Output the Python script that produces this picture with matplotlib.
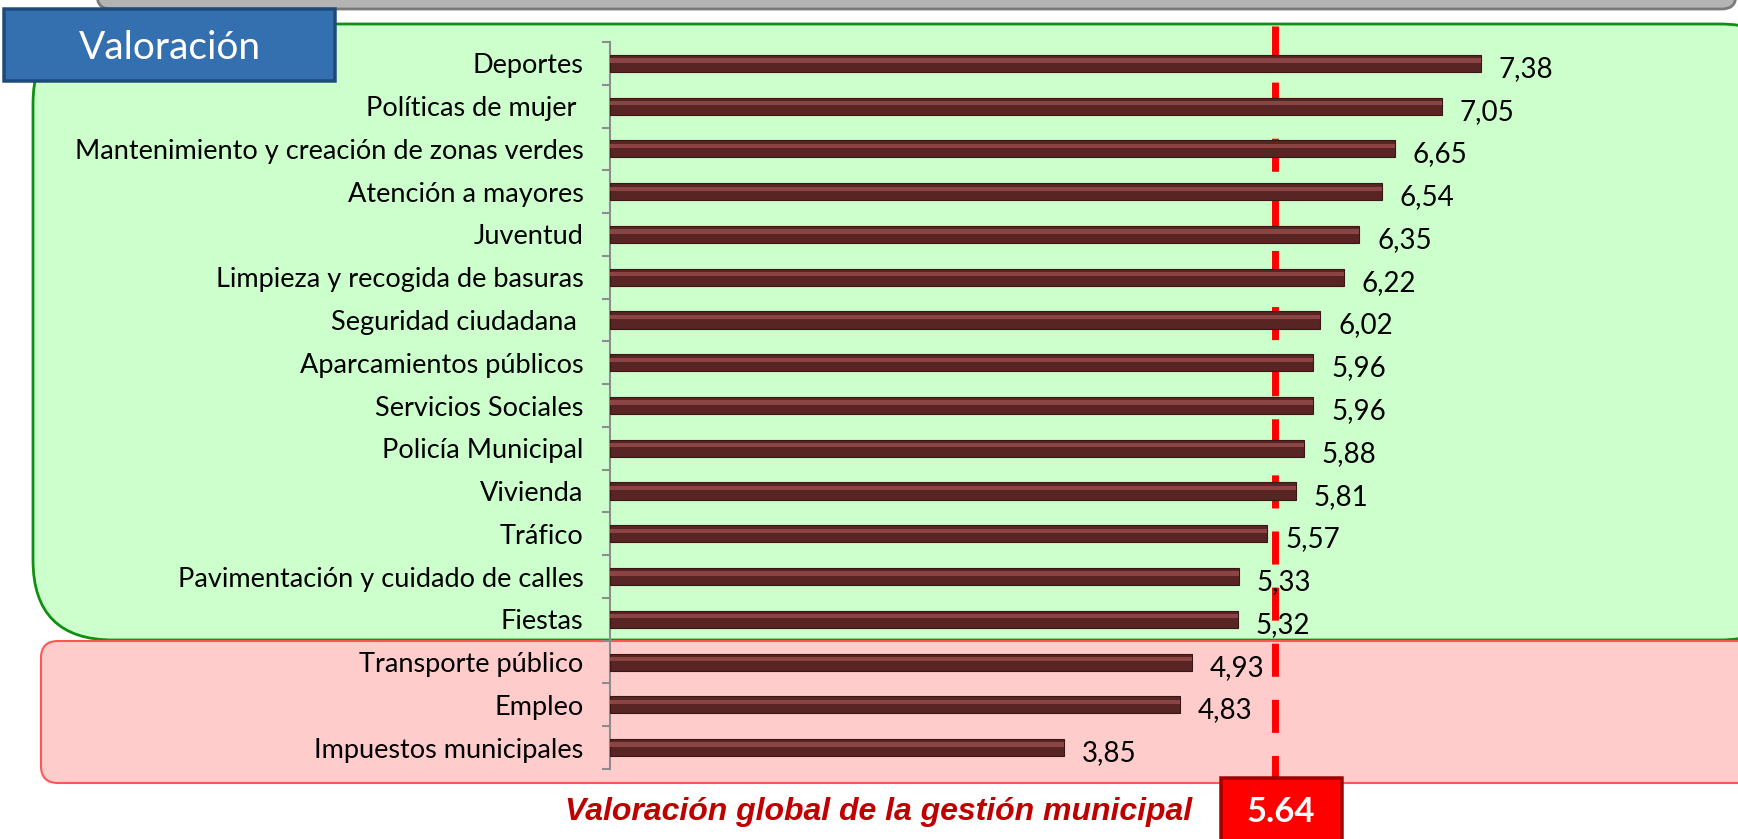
import numpy as np
import matplotlib
matplotlib.use("Agg")
import matplotlib.pyplot as plt
from matplotlib.patches import FancyBboxPatch
from matplotlib.transforms import IdentityTransform

# datos
categorias = ["Deportes", "Políticas de mujer ", "Mantenimiento y creación de zonas verdes",
              "Atención a mayores", "Juventud", "Limpieza y recogida de basuras",
              "Seguridad ciudadana ", "Aparcamientos públicos", "Servicios Sociales",
              "Policía Municipal", "Vivienda", "Tráfico", "Pavimentación y cuidado de calles",
              "Fiestas", "Transporte público", "Empleo", "Impuestos municipales"]
valores = [7.38, 7.05, 6.65, 6.54, 6.35, 6.22, 6.02, 5.96, 5.96, 5.88, 5.81, 5.57,
           5.33, 5.32, 4.93, 4.83, 3.85]
valoracion_global = 5.64

W, H = 1738, 839
plt.rcParams['font.family'] = ['Lato', 'DejaVu Sans']
plt.rcParams['lines.scale_dashes'] = False

fig = plt.figure(figsize=(W / 100, H / 100), dpi=100)
fig.patch.set_facecolor('white')


def caja(x0, y_top, x1, y_bot, r, fc, ec, lw, z):
    # coordenadas en pixeles (y desde arriba)
    p = FancyBboxPatch((x0, H - y_bot), x1 - x0, y_bot - y_top,
                       boxstyle="round,pad=0,rounding_size=%d" % r,
                       facecolor=fc, edgecolor=ec, linewidth=lw,
                       transform=IdentityTransform(), zorder=z)
    fig.patches.append(p)
    return p


# fondos
caja(97, -30, 1736, 9, 14, '#b4b4b4', '#7a7a7a', 2, -5)
caja(33, 24, 1800, 640, 80, '#ccffcc', '#109010', 2, -4)
caja(41, 641, 1800, 783, 17, '#ffcccc', '#ff5555', 1.5, -4)

ax = fig.add_axes([610 / W, 70 / H, 1 - 610 / W, 727 / H])
ax.set_facecolor('none')

n = len(categorias)
y = np.arange(n)
ax.barh(y, valores, height=0.40, color='#582424', edgecolor='#3a1616', linewidth=0.8, zorder=3)
ax.barh(y - 0.07, valores, height=0.10, color='#8a4444', linewidth=0, zorder=4)

for yi, v in zip(y, valores):
    ax.annotate(("%.2f" % v).replace('.', ','), (v, yi), xytext=(13, -4),
                textcoords='offset points', va='center', ha='left',
                fontsize=20, color='black', zorder=6)

ax.set_xlim(0, 9.56)
ax.set_ylim(n - 0.5, -0.5)
ax.set_yticks(y)
ax.set_yticklabels(categorias, fontsize=19.5)
ax.set_yticks(np.arange(-0.5, n), minor=True)
ax.tick_params(axis='y', which='major', length=0, pad=19)
ax.tick_params(axis='y', which='minor', length=6, width=1.5, color='#8c8c8c')
ax.set_xticks([])
for s in ['top', 'right', 'bottom']:
    ax.spines[s].set_visible(False)
ax.spines['left'].set_color('#8c8c8c')
ax.spines['left'].set_linewidth(1.5)

# línea de la valoración global
ax.plot([valoracion_global, valoracion_global], [1.022, -0.016], color='#ff0000',
        linewidth=5, dashes=(23.8, 16.6), transform=ax.get_xaxis_transform(),
        clip_on=False, zorder=2)

# título
caja(4, 9, 335, 81, 0, '#3470b0', '#1e4a7a', 2.5, 5)
fig.text(170 / W, 1 - 48 / H, "Valoración", color='white', fontsize=28,
         ha='center', va='center', zorder=6)

# valoración global
caja(1221, 778, 1342, 860, 0, '#ff0000', '#a00000', 2.5, 5)
fig.text(1281 / W, 1 - 812 / H, "%.2f" % valoracion_global, color='white', fontsize=25,
         fontweight='bold', ha='center', va='center', zorder=6)
fig.text(1192 / W, 1 - 812 / H, "Valoración global de la gestión municipal",
         color='#c00000', fontsize=23, fontweight='bold', fontstyle='italic',
         family=['Liberation Sans', 'DejaVu Sans'], ha='right', va='center', zorder=6)

fig.savefig('out.png', dpi=100)
